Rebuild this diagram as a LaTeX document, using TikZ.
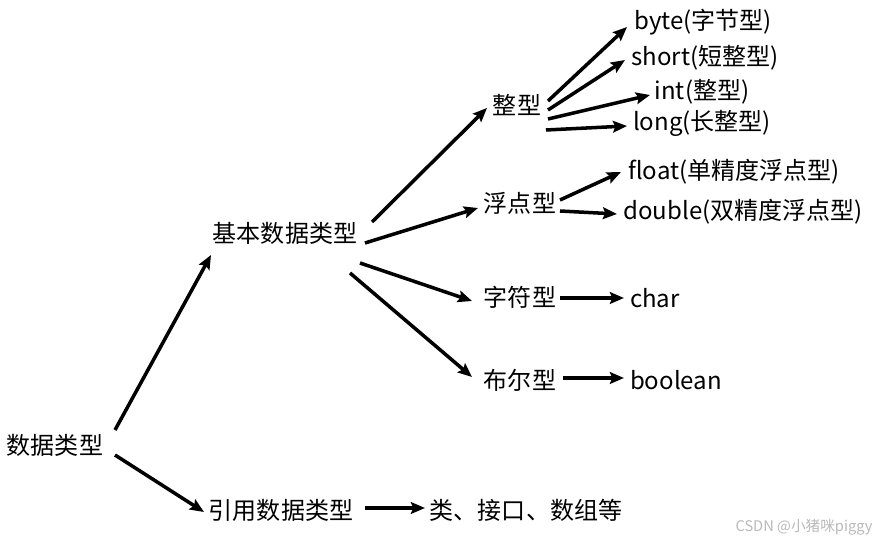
\documentclass[tikz,border=0pt]{standalone}
\usepackage{fontspec}
\setmainfont{Noto Sans CJK SC}
\usetikzlibrary{arrows.meta}
\tikzset{
  typename/.style={inner sep=0pt,font=\fontsize{20.5}{22}\selectfont},
  arrow/.style={-{Stealth[length=12pt,width=10pt,inset=2pt]},line width=3pt,black},
  wmark/.style={inner sep=0pt,text=gray!55,font=\fontsize{12.5}{13}\selectfont}
}

\begin{document}
\begin{tikzpicture}[x=0.03cm,y=-0.03cm]
  \useasboundingbox (0,0) rectangle (885,543);

  % root and first level
  \node[typename] (root) at (55,445) {数据类型};
  \node[typename] (basic) at (285,233) {基本数据类型};
  \node[typename] (ref) at (281,510) {引用数据类型};
  \node[typename] (refkind) at (526,510) {类、接口、数组等};

  % basic types
  \node[typename] (int) at (517,105) {整型};
  \node[typename] (float) at (520,203) {浮点型};
  \node[typename] (char) at (520,297) {字符型};
  \node[typename] (bool) at (520,380) {布尔型};

  % concrete types
  \node[typename] (tbyte) at (703,22) {byte(字节型)};
  \node[typename] (tshort) at (705,58) {short(短整型)};
  \node[typename] (tint) at (702,92) {int(整型)};
  \node[typename] (tlong) at (702,123) {long(长整型)};
  \node[typename] (tfloat) at (734,172) {float(单精度浮点型)};
  \node[typename] (tdouble) at (743,212) {double(双精度浮点型)};
  \node[typename] (tchar) at (655,298) {char};
  \node[typename] (tbool) at (676,380) {boolean};

  \node[wmark] (wm) at (804,527) {CSDN @小猪咪piggy};

  % connectors
  \draw[arrow] ([shift={(60,-15)}]root.center) -- ([shift={(-74,22)}]basic.center);
  \draw[arrow] ([shift={(60,10)}]root.center) -- ([shift={(-77,2)}]ref.center);
  \draw[arrow] ([shift={(84,-2)}]ref.center) -- ([shift={(-101,-2)}]refkind.center);

  \draw[arrow] ([shift={(87,-11)}]basic.center) -- ([shift={(-30,3)}]int.center);
  \draw[arrow] ([shift={(80,10)}]basic.center) -- ([shift={(-42,5)}]float.center);
  \draw[arrow] ([shift={(75,30)}]basic.center) -- ([shift={(-48,4)}]char.center);
  \draw[arrow] ([shift={(65,40)}]basic.center) -- ([shift={(-48,-3)}]bool.center);

  \draw[arrow] ([shift={(31,-4)}]int.center) -- ([shift={(-76,5)}]tbyte.center);
  \draw[arrow] ([shift={(31,5)}]int.center) -- ([shift={(-80,2)}]tshort.center);
  \draw[arrow] ([shift={(31,14)}]int.center) -- ([shift={(-52,3)}]tint.center);
  \draw[arrow] ([shift={(29,25)}]int.center) -- ([shift={(-75,3)}]tlong.center);

  \draw[arrow] ([shift={(40,-3)}]float.center) -- ([shift={(-113,0)}]tfloat.center);
  \draw[arrow] ([shift={(40,8)}]float.center) -- ([shift={(-126,2)}]tdouble.center);
  \draw[arrow] ([shift={(40,1)}]char.center) -- ([shift={(-31,0)}]tchar.center);
  \draw[arrow] ([shift={(43,-2)}]bool.center) -- ([shift={(-52,-2)}]tbool.center);
\end{tikzpicture}
\end{document}
